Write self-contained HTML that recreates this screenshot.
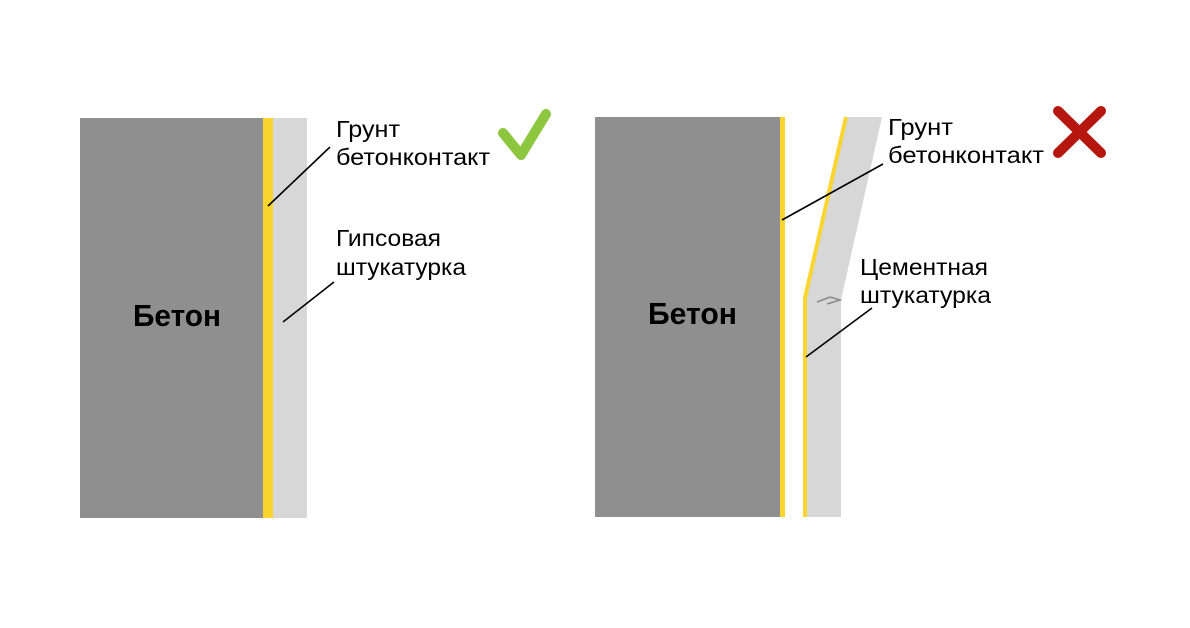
<!DOCTYPE html>
<html><head><meta charset="utf-8"><style>
html,body{margin:0;padding:0;background:#fff;}
svg{display:block;}
text{font-family:"Liberation Sans",sans-serif;}
</style></head><body>
<svg width="1190" height="628" viewBox="0 0 1190 628" xmlns="http://www.w3.org/2000/svg">
<rect width="1190" height="628" fill="#fff"/>
<!-- left -->
<rect x="80" y="118" width="183" height="400" fill="#8f8f8f"/>
<rect x="263" y="118" width="10" height="400" fill="#fad52f"/>
<rect x="273" y="118" width="34" height="400" fill="#d7d7d7"/>
<text x="133" y="326" font-size="31" font-weight="bold" fill="#000" textLength="88" lengthAdjust="spacingAndGlyphs">Бетон</text>
<line x1="268" y1="206" x2="330" y2="147" stroke="#000" stroke-width="1.6"/>
<line x1="283" y1="322" x2="334" y2="282" stroke="#000" stroke-width="1.6"/>
<text x="336" y="137" font-size="23" fill="#000" textLength="64" lengthAdjust="spacingAndGlyphs">Грунт</text>
<text x="336" y="165" font-size="23" fill="#000" textLength="154" lengthAdjust="spacingAndGlyphs">бетонконтакт</text>
<text x="336" y="246" font-size="23" fill="#000" textLength="105" lengthAdjust="spacingAndGlyphs">Гипсовая</text>
<text x="336" y="275" font-size="23" fill="#000" textLength="130" lengthAdjust="spacingAndGlyphs">штукатурка</text>
<polyline points="503,133 521,155 546,114" fill="none" stroke="#8dc63f" stroke-width="10" stroke-linecap="round" stroke-linejoin="round"/>
<!-- right -->
<rect x="595" y="117" width="185" height="400" fill="#8f8f8f"/>
<rect x="780" y="117" width="5" height="400" fill="#fad52f"/>
<polygon points="806,517 841,517 841,300 882,117 847,117 806,299" fill="#d7d7d7"/>
<polyline points="805,517 805,298 846,117" fill="none" stroke="#fad52f" stroke-width="4"/>
<path d="M817,302 L830,297 L840,300 L827,304" fill="none" stroke="#888" stroke-width="1.5"/>
<text x="648" y="324" font-size="31" font-weight="bold" fill="#000" textLength="89" lengthAdjust="spacingAndGlyphs">Бетон</text>
<line x1="782" y1="220" x2="883" y2="164" stroke="#000" stroke-width="1.6"/>
<line x1="806" y1="357" x2="872" y2="308" stroke="#000" stroke-width="1.6"/>
<text x="888" y="135" font-size="23" fill="#000" textLength="65" lengthAdjust="spacingAndGlyphs">Грунт</text>
<text x="888" y="163" font-size="23" fill="#000" textLength="156" lengthAdjust="spacingAndGlyphs">бетонконтакт</text>
<text x="860" y="275" font-size="23" fill="#000" textLength="128" lengthAdjust="spacingAndGlyphs">Цементная</text>
<text x="860" y="303" font-size="23" fill="#000" textLength="131" lengthAdjust="spacingAndGlyphs">штукатурка</text>
<line x1="1058" y1="111" x2="1101" y2="153" stroke="#b5170f" stroke-width="10" stroke-linecap="round"/>
<line x1="1101" y1="111" x2="1058" y2="153" stroke="#b5170f" stroke-width="10" stroke-linecap="round"/>
</svg>
</body></html>
